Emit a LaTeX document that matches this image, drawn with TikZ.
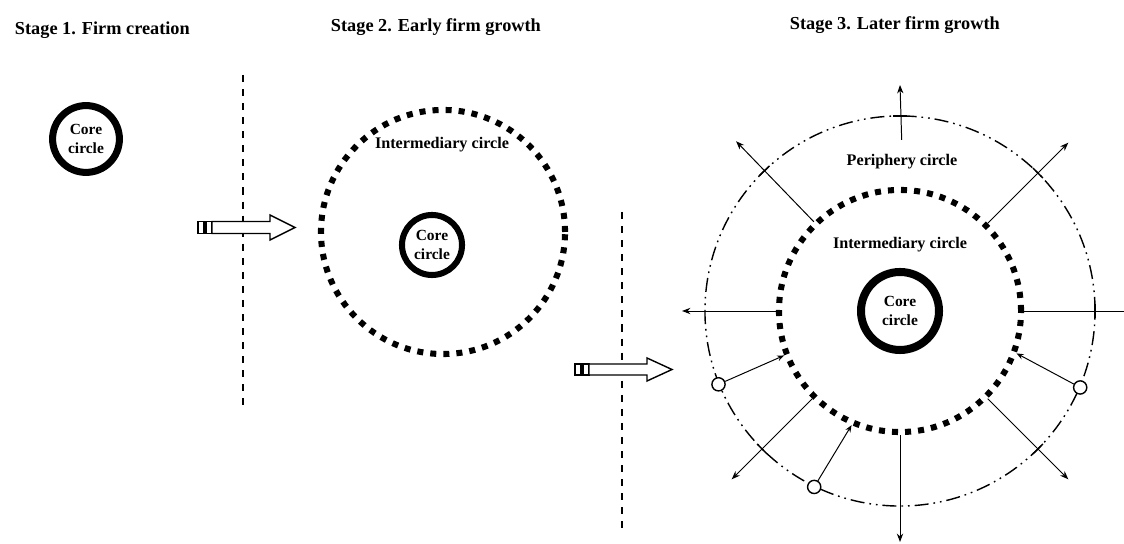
\documentclass[tikz,border=0pt]{standalone}
\usepackage{fontspec}
\setmainfont{Liberation Serif}
\usetikzlibrary{arrows.meta,calc}
\tikzset{
  stagetitle/.style={anchor=west, font=\fontsize{13}{15}\selectfont\bfseries},
  ringname/.style={font=\fontsize{11.5}{13}\selectfont\bfseries},
  core/.style={circle, draw, line width=5pt, inner sep=0pt, align=center,
    font=\fontsize{11}{13.5}\selectfont\bfseries},
  inter/.style={circle, draw, line width=4.3pt, dash pattern=on 4.3pt off 5pt, inner sep=0pt},
  periph/.style={circle, draw, line width=1pt, inner sep=0pt,
    dash pattern=on 10pt off 3.5pt on 1.2pt off 3.5pt on 1.2pt off 3.5pt},
  divider/.style={line width=0.8pt, dash pattern=on 5pt off 5pt},
  hollow/.style={draw, fill=white, line width=1pt, line join=miter},
  outarrow/.style={line width=0.7pt, -{Stealth[length=6pt,width=4.5pt]}},
  inarrow/.style={line width=0.7pt, -{Stealth[length=5pt,width=4pt]}},
  barrier/.style={line width=1pt},
  entry/.style={circle, draw, fill=white, line width=1pt, minimum size=0.33cm, inner sep=0pt}
}
\begin{document}
\begin{tikzpicture}[x=0.025cm,y=0.025cm]
\useasboundingbox (0,0) rectangle (1124,544);

% titles
\node[stagetitle] (t1) at (10,514) {Stage 1. Firm creation};
\node[stagetitle] (t2) at (326,517) {Stage 2. Early firm growth};
\node[stagetitle] (t3) at (785,519) {Stage 3. Later firm growth};

% stage 1
\node[core, minimum size=1.67cm] (core1) at (86,405) {Core\\circle};
\coordinate (d1top) at (243,469);
\coordinate (d1bot) at (243,134);
\draw[divider] (d1top) -- (d1bot);
\draw[hollow] (198,310.5) rectangle (204,322.5);
\draw[hollow] (206,310.5) rectangle (212,322.5);
\draw[hollow] (212,310.5) -- (270,310.5) -- (270,304) -- (295,316.5)
  -- (270,329) -- (270,322.5) -- (212,322.5) -- cycle;

% stage 2
\node[inter, minimum size=6.1cm] (inter2) at (443,312) {};
\node[ringname] (iname2) at (442,399) {Intermediary circle};
\node[core, minimum size=1.5cm, line width=4.3pt] (core2) at (432,299) {Core\\circle};
\coordinate (d2top) at (622,332);
\coordinate (d2bot) at (622,14);
\draw[divider] (d2top) -- (d2bot);
\draw[hollow] (575,169) rectangle (581,180);
\draw[hollow] (583,169) rectangle (589,180);
\draw[hollow] (589,169) -- (647,169) -- (647,163) -- (672,174.5)
  -- (647,186) -- (647,180) -- (589,180) -- cycle;

% stage 3
\coordinate (c3) at (900,233);
\node[periph, minimum size=9.75cm] (periph) at (c3) {};
\node[inter, minimum size=6.05cm] (inter3) at (c3) {};
\node[core, minimum size=1.95cm, line width=5.7pt] (core3) at (c3) {Core\\circle};
\node[ringname] (pname) at (902,382) {Periphery circle};
\node[ringname] (iname3) at (900,299) {Intermediary circle};

% outward moves
\foreach \a/\r in {45/238,134/236,180/218,225/238,315/238,270/231}{
  \coordinate (out\a) at ($(c3)+(\a:\r)$);
  \draw[outarrow] (inter3.\a) -- (out\a);
}
\coordinate (out90) at (900,459);
\draw[outarrow, shorten <=7pt] (pname.north) -- (out90);
\coordinate (out0) at (1124,233);
\draw[line width=0.7pt] (inter3.0) -- (out0);
\foreach \a in {0,45,90,134,225,315}
  \draw[barrier] ($(c3)+(\a:195)+(\a+90:7)$) -- ($(c3)+(\a:195)+(\a-90:7)$);

% inward moves
\node[entry] (e1) at (periph.202) {};
\node[entry] (e2) at (periph.-23) {};
\node[entry] (e3) at (periph.244) {};
\draw[inarrow] (e1) -- (inter3.201);
\draw[inarrow] (e2) -- (inter3.-20);
\draw[inarrow] (e3) -- (inter3.247);
\end{tikzpicture}
\end{document}
